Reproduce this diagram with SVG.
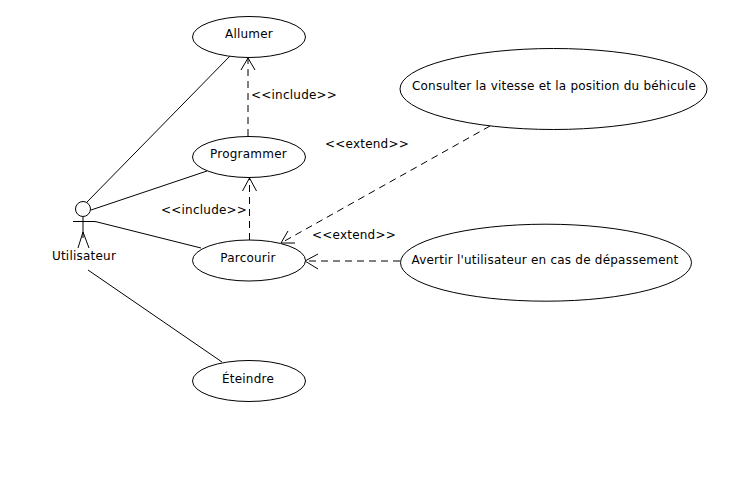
<svg xmlns="http://www.w3.org/2000/svg" width="756" height="482" viewBox="0 0 756 482">
<style>
text{font-family:"DejaVu Sans",sans-serif;font-size:12px;letter-spacing:.22px;fill:#000}
.m{text-anchor:middle}
ellipse,circle{fill:#fff;stroke:#000;stroke-width:1}
line,polyline{fill:none;stroke:#000;stroke-width:1}
.d{stroke-dasharray:7 5}
</style>
<rect width="756" height="482" fill="#fff"/>
<g id="connectors">
<line x1="87" y1="202" x2="230" y2="56"/>
<line x1="91" y1="210" x2="207" y2="171"/>
<polyline points="95,221.7 96,221.7 201,248"/>
<line x1="88" y1="270" x2="222" y2="362"/>
<line class="d" x1="248" y1="136" x2="248" y2="58"/>
<polyline points="241,70 248,58 255,70"/>
<line class="d" x1="249.500" y1="240" x2="249.500" y2="178"/>
<polyline points="242.500,191 249.500,178 256.500,191"/>
<line class="d" x1="490" y1="126" x2="281" y2="243"/>
<polyline points="288,231 281,243 295,243"/>
<line class="d" x1="400" y1="261" x2="305" y2="261"/>
<polyline points="318,254 305,261 318,269"/>
</g>
<g id="actor">
<circle cx="83" cy="209" r="7.500"/>
<line x1="83" y1="217" x2="83" y2="238"/>
<line x1="73" y1="221.500" x2="95" y2="221.500"/>
<polyline points="78,248 83,232 89,248"/>
<text class="m" x="84" y="260">Utilisateur</text>
</g>
<g id="allumer"><ellipse cx="249" cy="37" rx="56.500" ry="20.500"/><text class="m" x="249" y="38">Allumer</text></g>
<g id="programmer"><ellipse cx="249" cy="157" rx="56.500" ry="20.500"/><text class="m" x="248.500" y="158">Programmer</text></g>
<g id="parcourir"><ellipse cx="249" cy="260.500" rx="56.500" ry="20.500"/><text class="m" x="248" y="262">Parcourir</text></g>
<g id="eteindre"><ellipse cx="249" cy="381" rx="56.500" ry="20.500"/><text class="m" x="248" y="383">Éteindre</text></g>
<g id="consulter"><ellipse cx="553.500" cy="89" rx="153.500" ry="40.500"/><text class="m" x="554" y="90">Consulter la vitesse et la position du béhicule</text></g>
<g id="avertir"><ellipse cx="546" cy="262.700" rx="145.500" ry="38.500"/><text class="m" x="545" y="264">Avertir l'utilisateur en cas de dépassement</text></g>
<g id="labels">
<text x="251" y="99">&lt;&lt;include&gt;&gt;</text>
<text x="161" y="214">&lt;&lt;include&gt;&gt;</text>
<text x="325" y="148">&lt;&lt;extend&gt;&gt;</text>
<text x="312" y="239">&lt;&lt;extend&gt;&gt;</text>
</g>
</svg>
